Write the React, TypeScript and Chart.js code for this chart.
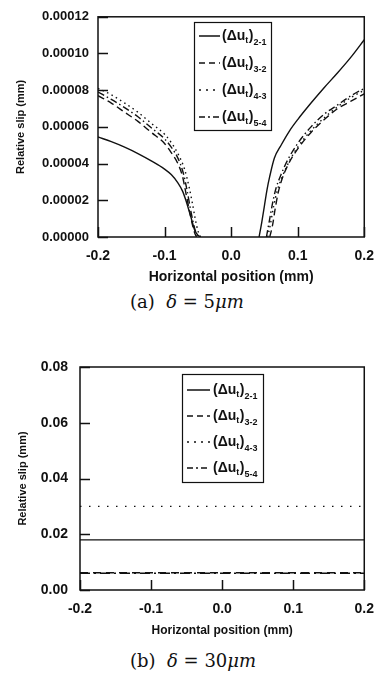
import React, { useEffect, useRef } from "react";
import { Chart, registerables } from "chart.js";

Chart.register(...registerables);

const SANS = "'Liberation Sans', Arial, Helvetica, sans-serif";
const INK = "#111111";

// ---------- data: panel (a), delta = 5 um ----------
const seriesNames = ["2-1", "3-2", "4-3", "5-4"];

const a21X = [-0.2, -0.18, -0.16, -0.14, -0.12, -0.1, -0.09, -0.08, -0.073, -0.068, -0.063, -0.059, -0.055, -0.05, -0.046, 0, 0.042, 0.046, 0.05, 0.054, 0.058, 0.065, 0.075, 0.088, 0.1, 0.12, 0.14, 0.16, 0.18, 0.2];
const a21Y = [5.45e-5, 5.2e-5, 4.9e-5, 4.55e-5, 4.15e-5, 3.7e-5, 3.4e-5, 2.95e-5, 2.5e-5, 2.0e-5, 1.4e-5, 0.9e-5, 0.4e-5, 0.1e-5, 0, null, 0, 0.8e-5, 1.7e-5, 2.6e-5, 3.3e-5, 4.3e-5, 5.0e-5, 5.8e-5, 6.4e-5, 7.3e-5, 8.15e-5, 8.95e-5, 9.8e-5, 10.75e-5];

const a32X = [-0.2, -0.18, -0.16, -0.14, -0.12, -0.1, -0.09, -0.08, -0.073, -0.068, -0.063, -0.059, -0.055, -0.052, 0, 0.058, 0.062, 0.066, 0.07, 0.075, 0.085, 0.1, 0.12, 0.14, 0.16, 0.18, 0.2];
const a32Y = [7.7e-5, 7.3e-5, 6.8e-5, 6.3e-5, 5.7e-5, 5.1e-5, 4.6e-5, 4.0e-5, 3.3e-5, 2.4e-5, 1.5e-5, 0.8e-5, 0.25e-5, 0, null, 0, 0.6e-5, 1.5e-5, 2.3e-5, 3.0e-5, 3.9e-5, 4.8e-5, 5.7e-5, 6.4e-5, 7.0e-5, 7.4e-5, 7.8e-5];

const a43X = [-0.2, -0.18, -0.16, -0.14, -0.12, -0.1, -0.09, -0.08, -0.07, -0.063, -0.058, -0.054, -0.05, -0.046, 0, 0.055, 0.059, 0.064, 0.069, 0.077, 0.087, 0.1, 0.12, 0.14, 0.16, 0.18, 0.2];
const a43Y = [8.1e-5, 7.75e-5, 7.3e-5, 6.8e-5, 6.2e-5, 5.6e-5, 5.15e-5, 4.55e-5, 3.7e-5, 2.7e-5, 1.8e-5, 1.0e-5, 0.35e-5, 0, null, 0, 0.7e-5, 1.7e-5, 2.5e-5, 3.3e-5, 4.1e-5, 4.9e-5, 5.8e-5, 6.5e-5, 7.1e-5, 7.6e-5, 8.0e-5];

const a54X = [-0.2, -0.18, -0.16, -0.14, -0.12, -0.1, -0.09, -0.08, -0.072, -0.066, -0.061, -0.057, -0.053, -0.05, 0, 0.053, 0.057, 0.062, 0.067, 0.075, 0.085, 0.1, 0.12, 0.14, 0.16, 0.18, 0.2];
const a54Y = [7.9e-5, 7.5e-5, 7.05e-5, 6.55e-5, 5.95e-5, 5.35e-5, 4.9e-5, 4.3e-5, 3.5e-5, 2.5e-5, 1.5e-5, 0.8e-5, 0.25e-5, 0, null, 0, 0.8e-5, 1.8e-5, 2.6e-5, 3.4e-5, 4.2e-5, 5.1e-5, 6.0e-5, 6.7e-5, 7.2e-5, 7.7e-5, 8.1e-5];

// ---------- data: panel (b), delta = 30 um ----------
const bX = [-0.2, 0.2];
const b21Y = [0.018, 0.018];
const b32Y = [0.0062, 0.0062];
const b43Y = [0.03, 0.03];
const b54Y = [0.006, 0.006];

// axis ranges / ticks
const xRange = [-0.2, 0.2];
const xStep = 0.1;
const aYRange = [0, 0.00012];
const aYStep = 0.00002;
const bYRange = [0, 0.08];
const bYStep = 0.02;

const xTitle = "Horizontal position (mm)";
const yTitle = "Relative slip (mm)";

const zip = (xs: number[], ys: (number | null)[]) => xs.map((x, i) => ({ x, y: ys[i] }));

const framePlugin = {
  id: "frameTicks",
  afterDatasetsDraw(chart: any, _args: any, opts: any) {
    const { ctx, chartArea: a, scales } = chart;
    ctx.save();
    ctx.strokeStyle = INK;
    ctx.setLineDash([]);
    ctx.lineWidth = opts.tickWidth;
    ctx.beginPath();
    scales.x.ticks.forEach((t: any) => {
      const px = Math.round(scales.x.getPixelForValue(t.value)) + 0.5;
      ctx.moveTo(px, a.bottom);
      ctx.lineTo(px, a.bottom - opts.len);
    });
    scales.y.ticks.forEach((t: any) => {
      const py = Math.round(scales.y.getPixelForValue(t.value)) + 0.5;
      ctx.moveTo(a.left, py);
      ctx.lineTo(a.left + opts.len, py);
    });
    ctx.stroke();
    ctx.lineWidth = opts.frameWidth;
    ctx.strokeRect(a.left, a.top, a.right - a.left, a.bottom - a.top);
    ctx.restore();
  },
};

const legendPlugin = {
  id: "slipLegend",
  afterDraw(chart: any, _args: any, o: any) {
    const { ctx } = chart;
    ctx.save();
    ctx.fillStyle = "#ffffff";
    ctx.fillRect(o.x, o.y, o.w, o.h);
    ctx.strokeStyle = INK;
    ctx.lineWidth = 1.2;
    ctx.setLineDash([]);
    ctx.strokeRect(o.x + 0.5, o.y + 0.5, o.w, o.h);
    chart.data.datasets.forEach((ds: any, i: number) => {
      const cy = o.y + o.first + o.rowH * i;
      ctx.strokeStyle = INK;
      ctx.lineWidth = 1.5;
      ctx.setLineDash(o.dashes[i]);
      ctx.beginPath();
      ctx.moveTo(o.x + o.s0, cy);
      ctx.lineTo(o.x + o.s1, cy);
      ctx.stroke();
      ctx.setLineDash([]);
      ctx.fillStyle = INK;
      ctx.textBaseline = "middle";
      ctx.textAlign = "left";
      const main = `bold ${o.main}px ${SANS}`;
      const sub = `bold ${o.sub}px ${SANS}`;
      let tx = o.x + o.tx;
      ctx.font = main;
      ctx.fillText("(\u0394u", tx, cy);
      tx += ctx.measureText("(\u0394u").width;
      ctx.font = sub;
      ctx.fillText("t", tx, cy + o.sub * 0.45);
      tx += ctx.measureText("t").width + 0.5;
      ctx.font = main;
      ctx.fillText(")", tx, cy);
      tx += ctx.measureText(")").width;
      ctx.font = sub;
      ctx.fillText(ds.label, tx, cy + o.sub * 0.75);
    });
    ctx.restore();
  },
};

type PanelCfg = {
  datasets: any[];
  yMin: number;
  yMax: number;
  yStep: number;
  yDigits: number;
  width: number;
  height: number;
  padTop: number;
  yScaleW: number;
  xScaleH: number;
  yTickFont: number;
  xTickFont: number;
  yTickPad: number;
  xTickPad: number;
  xTitleFont: number;
  xTitlePad: number;
  yTitlePad: number;
  legend: any;
};

function Panel({ cfg }: { cfg: PanelCfg }) {
  const ref = useRef<HTMLCanvasElement | null>(null);
  useEffect(() => {
    if (!ref.current) return;
    const chart = new Chart(ref.current, {
      type: "line",
      data: { datasets: cfg.datasets },
      plugins: [framePlugin, legendPlugin],
      options: {
        responsive: false,
        animation: false,
        devicePixelRatio: 1,
        layout: { padding: { top: cfg.padTop, right: 10, left: 0, bottom: 0 } },
        elements: {
          point: { radius: 0 },
          line: { borderWidth: 1.4, borderColor: INK, cubicInterpolationMode: "monotone", fill: false },
        },
        plugins: {
          legend: { display: false },
          tooltip: { enabled: false },
          frameTicks: { len: 10, tickWidth: 1.5, frameWidth: 1.5 },
          slipLegend: cfg.legend,
        } as any,
        scales: {
          x: {
            type: "linear",
            min: xRange[0],
            max: xRange[1],
            grid: { display: false, drawTicks: false },
            border: { display: false },
            ticks: {
              stepSize: xStep,
              padding: cfg.xTickPad,
              color: INK,
              font: { family: SANS, size: cfg.xTickFont, weight: "bold" },
              callback: (v: any) => Number(v).toFixed(1),
              maxRotation: 0,
            },
            title: {
              display: true,
              text: xTitle,
              color: INK,
              font: { family: SANS, size: cfg.xTitleFont, weight: "bold" },
              padding: { top: 0, bottom: cfg.xTitlePad },
            },
            afterFit: (s: any) => {
              s.height = cfg.xScaleH;
            },
          },
          y: {
            type: "linear",
            min: cfg.yMin,
            max: cfg.yMax,
            grid: { display: false, drawTicks: false },
            border: { display: false },
            ticks: {
              stepSize: cfg.yStep,
              padding: cfg.yTickPad,
              color: INK,
              font: { family: SANS, size: cfg.yTickFont, weight: "bold" },
              callback: (v: any) => Number(v).toFixed(cfg.yDigits),
            },
            title: {
              display: true,
              text: yTitle,
              color: INK,
              font: { family: SANS, size: 11, weight: "bold" },
              padding: { top: cfg.yTitlePad, bottom: 0 },
            },
            afterFit: (s: any) => {
              s.width = cfg.yScaleW;
            },
          },
        },
      } as any,
    });
    return () => chart.destroy();
  }, []);
  return <canvas ref={ref} width={cfg.width} height={cfg.height} style={{ display: "block" }} />;
}

const panelA: PanelCfg = {
  datasets: [
    { label: seriesNames[0], data: zip(a21X, a21Y), borderDash: [] },
    { label: seriesNames[1], data: zip(a32X, a32Y), borderDash: [7, 4] },
    { label: seriesNames[2], data: zip(a43X, a43Y), borderDash: [1.5, 3.5] },
    { label: seriesNames[3], data: zip(a54X, a54Y), borderDash: [7, 3, 1.5, 3] },
  ],
  yMin: aYRange[0],
  yMax: aYRange[1],
  yStep: aYStep,
  yDigits: 5,
  width: 385,
  height: 290,
  padTop: 14,
  yScaleW: 98,
  xScaleH: 53,
  yTickFont: 13,
  xTickFont: 14,
  yTickPad: 9,
  xTickPad: 11,
  xTitleFont: 14,
  xTitlePad: 4,
  yTitlePad: 14,
  legend: {
    x: 194, y: 22, w: 77, h: 108, first: 14, rowH: 27, s0: 5, s1: 26, tx: 28, main: 14, sub: 9,
    dashes: [[], [6, 4], [2, 5], [6, 3, 2, 3]],
  },
};

const panelB: PanelCfg = {
  datasets: [
    { label: seriesNames[0], data: zip(bX, b21Y), borderDash: [] },
    { label: seriesNames[1], data: zip(bX, b32Y), borderDash: [8, 5] },
    { label: seriesNames[2], data: zip(bX, b43Y), borderDash: [1.5, 7.5] },
    { label: seriesNames[3], data: zip(bX, b54Y), borderDash: [10, 4, 2, 4] },
  ],
  yMin: bYRange[0],
  yMax: bYRange[1],
  yStep: bYStep,
  yDigits: 2,
  width: 385,
  height: 310,
  padTop: 37,
  yScaleW: 80,
  xScaleH: 50,
  yTickFont: 14,
  xTickFont: 14,
  yTickPad: 12,
  xTickPad: 11,
  xTitleFont: 12,
  xTitlePad: 2,
  yTitlePad: 16,
  legend: {
    x: 182, y: 44, w: 81, h: 108, first: 16, rowH: 26, s0: 5, s1: 28, tx: 31, main: 14, sub: 9,
    dashes: [[], [6, 4], [2, 5], [6, 3, 2, 3]],
  },
};

const captionStyle: React.CSSProperties = {
  position: "absolute",
  left: 130,
  fontFamily: "'DejaVu Serif', 'Liberation Serif', serif",
  fontSize: 18,
  lineHeight: "20px",
  color: INK,
  whiteSpace: "pre",
};

export default function App() {
  return (
    <div style={{ position: "absolute", left: 0, top: 0, width: 385, height: 673, background: "#fff" }}>
      <div style={{ position: "absolute", left: 0, top: 0 }}>
        <Panel cfg={panelA} />
      </div>
      <div style={{ ...captionStyle, top: 292 }}>
        (a){"  "}<i>δ</i> = 5<i>μm</i>
      </div>
      <div style={{ position: "absolute", left: 0, top: 330 }}>
        <Panel cfg={panelB} />
      </div>
      <div style={{ ...captionStyle, top: 651 }}>
        (b){"  "}<i>δ</i> = 30<i>μm</i>
      </div>
    </div>
  );
}
